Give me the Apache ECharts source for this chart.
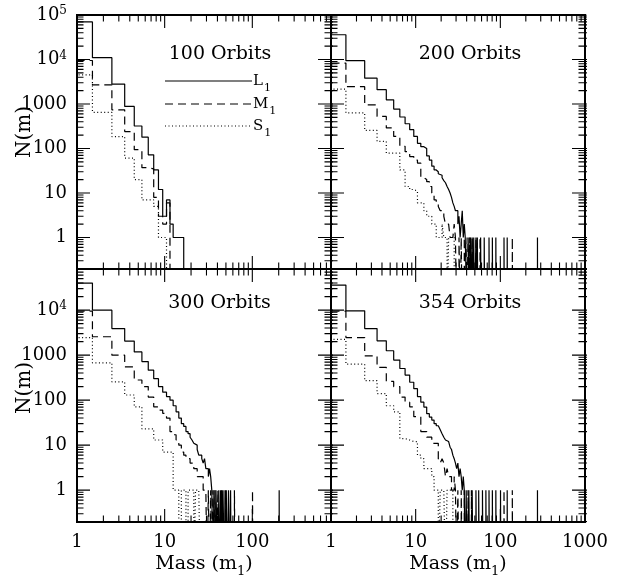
<!DOCTYPE html>
<html><head><meta charset="utf-8">
<script src="https://cdn.jsdelivr.net/npm/echarts@6/dist/echarts.min.js"></script>
<style>html,body{margin:0;padding:0;background:#fff}#c{width:625px;height:579px}</style>
</head><body><div id="c"></div>
<script>
// ---------------- data (counts N(m) for integer masses m = 1,2,3,...) ----------------
const panelTitles = ['100 Orbits', '200 Orbits', '300 Orbits', '354 Orbits'];
const seriesNames = ['L1', 'M1', 'S1'];

// 100 orbits
const L100 = [70000, 11000, 2800, 880, 320, 180, 72, 33, 12, 3, 7, 2, 1, 1, 1, 1];
const M100 = [9500, 2700, 740, 240, 94, 37, 35, 8, 3, 2, 6];
const S100 = [4500, 650, 185, 61, 20, 7, 7, 5, 1, 1];
const L100tail = [];
const M100tail = [];
const S100tail = [];

// 200 orbits
const L200 = [36000, 9400, 3800, 2100, 1240, 770, 510, 360, 265, 187, 131, 110, 100, 68, 55, 40, 33, 30, 27, 25, 22, 19, 17, 14, 12, 10, 8, 6, 5, 4, 4, 2, 3, 1, 2, 4, 1, 2, 1, 1];
const M200 = [8300, 2450, 955, 525, 290, 187, 112, 85, 66, 55, 47, 22, 20, 18, 14, 10, 7, 6, 5, 4, 4, 3, 2, 2, 2, 1, 1, 1, 2, 1];
const S200 = [2150, 630, 255, 145, 79, 79, 33, 14, 12, 11, 6, 6, 4, 3, 3, 2, 2, 1, 1, 1, 2, 1, 1, 0, 1, 1, 1, 1];
const L200tail = [43, 45, 47, 49, 52, 54, 59, 65, 74, 81, 89, 111, 121, 275];
const M200tail = [33, 35, 38, 41, 44, 47, 52, 58, 139];
const S200tail = [];

// 300 orbits
const L300 = [40000, 10000, 3900, 2050, 1180, 720, 464, 300, 200, 150, 120, 100, 75, 55, 40, 30, 26, 20, 18, 15, 13, 11, 10, 8, 6, 6, 5, 4, 5, 3, 3, 2, 3, 2, 1];
const M300 = [9500, 2560, 1000, 550, 280, 200, 117, 71, 60, 51, 40, 20, 17, 13, 10, 7, 6, 5, 5, 4, 4, 3, 3, 2, 2, 2, 2, 1, 1, 1];
const S300 = [2450, 675, 255, 130, 71, 23, 23, 13, 13, 7, 7, 7, 1, 1, 0, 1, 1, 0, 1, 1, 1, 0, 1, 1, 1];
const L300tail = [37, 39, 40, 42, 44, 46, 48, 51, 54, 57, 203];
const M300tail = [32, 34, 36, 38, 41, 45, 50, 63, 101];
const S300tail = [];

// 354 orbits
const L354 = [36000, 9650, 3900, 2080, 1250, 775, 505, 360, 250, 180, 120, 90, 70, 50, 42, 36, 30, 27, 26, 22, 18, 15, 13, 12, 11, 9, 8, 6, 5, 4, 3, 4, 2, 3, 2, 1, 2, 1];
const M354 = [9500, 2450, 960, 535, 260, 200, 117, 90, 71, 43, 43, 20, 20, 15, 15, 11, 11, 11, 5, 4, 5, 4, 2, 3, 2, 2, 1, 1, 2, 1];
const S354 = [2240, 630, 270, 140, 75, 55, 14, 13, 12, 12, 6, 5, 3, 3, 3, 2, 1, 1, 0, 1, 1, 1, 0, 1, 1, 1, 1];
const L354tail = [40, 43, 47, 52, 56, 62, 68, 74, 81, 89, 101, 121, 275];
const M354tail = [32, 35, 38, 42, 46, 111, 139];
const S354tail = [];

// axis ranges and tick labels
const xMaxLeft = 790, xMaxRight = 1000, xMin = 1;
const yMinAll = 0.196, yMaxTop = 100000, yMaxBottom = 82000;
const xLabelsLeft = [1, 10, 100];
const xLabelsRight = [1, 10, 100, 1000];
const yLabelsTop = [1, 10, 100, 1000, 10000, 100000];
const yLabelsBottom = [1, 10, 100, 1000, 10000];

// ---------------- helpers ----------------
const FLOOR = 0.01;      // below every y axis (clipped away)
const CEIL = 1e9;        // above every y axis (clipped away)
const XLOW = 0.01;       // left of every x axis (clipped away)
const XHIGH = 1e6;       // right of every x axis (clipped away)
function stepData(dense, tail) {
  const counts = {};
  dense.forEach((v, i) => { if (v > 0) counts[i + 1] = v; });
  tail.forEach(m => { counts[m] = (counts[m] || 0) + 1; });
  const ms = Object.keys(counts).map(Number).sort((a, b) => a - b);
  const pts = [];
  let prev = null;
  ms.forEach(m => {
    if (prev !== null && m !== prev + 1) { pts.push([prev + 0.5, FLOOR]); pts.push([m - 0.5, FLOOR]); }
    pts.push([m - 0.5, counts[m]]);
    pts.push([m + 0.5, counts[m]]);
    prev = m;
  });
  pts.push([prev + 0.5, FLOOR]);
  return pts;
}
// tick values: [value, isMajor] for 1..9 x 10^e inside [min, max]
function tickVals(min, max) {
  const out = [];
  for (let e = -1; e <= 5; e++) for (let k = 1; k <= 9; k++) {
    const v = +(k * Math.pow(10, e)).toPrecision(3);
    if (v >= min * 0.9999 && v <= max * 1.0001) out.push([v, k === 1 ? 1 : 0]);
  }
  return out;
}
const FONT = 'DejaVu Serif';
function labelFmt(v) {
  const e = Math.round(Math.log10(v));
  return e >= 4 ? '10{sup|' + e + '}' : String(Math.round(v));
}
function mkAxis(g, pos, min, max, labels) {
  return {
    type: 'log', logBase: 10, gridIndex: g, position: pos, min: min, max: max,
    axisLine: { show: false, onZero: false },
    axisTick: { show: false },
    axisLabel: labels ? {
      show: true, customValues: labels, formatter: labelFmt, margin: 10,
      color: '#000', fontFamily: FONT, fontSize: 18, lineHeight: 20,
      rich: { sup: { fontFamily: FONT, fontSize: 12, lineHeight: 12, verticalAlign: 'top', color: '#000' } }
    } : { show: false },
    splitLine: { show: false }
  };
}
const MAJOR_LEN = 13, MINOR_LEN = 6.5;   // tick lengths in pixels

// ---------------- layout ----------------
const grids = [
  { left: 77, top: 15, width: 254, height: 254 },
  { left: 331, top: 15, width: 254, height: 254 },
  { left: 77, top: 269, width: 254, height: 253 },
  { left: 331, top: 269, width: 254, height: 253 }
].map(g => Object.assign({ show: true, borderColor: '#000', borderWidth: 2, backgroundColor: 'transparent' }, g));

const panelX = [[xMaxLeft, null], [xMaxRight, null], [xMaxLeft, xLabelsLeft], [xMaxRight, xLabelsRight]];
const panelY = [[yMaxTop, yLabelsTop], [yMaxTop, null], [yMaxBottom, yLabelsBottom], [yMaxBottom, null]];
const xAxes = [], yAxes = [];
for (let g = 0; g < 4; g++) {
  xAxes.push(mkAxis(g, 'bottom', xMin, panelX[g][0], panelX[g][1]));
  yAxes.push(mkAxis(g, 'left', yMinAll, panelY[g][0], panelY[g][1]));
}

const panelData = [
  [[L100, L100tail], [M100, M100tail], [S100, S100tail]],
  [[L200, L200tail], [M200, M200tail], [S200, S200tail]],
  [[L300, L300tail], [M300, M300tail], [S300, S300tail]],
  [[L354, L354tail], [M354, M354tail], [S354, S354tail]]
];
const dashes = ['solid', [8, 5], [1, 2.5]];
const series = [];
panelData.forEach((sets, g) => {
  sets.forEach(([dense, tail], k) => {
    series.push({
      type: 'line', name: seriesNames[k], xAxisIndex: g, yAxisIndex: g,
      data: stepData(dense, tail), showSymbol: false, symbol: 'none', clip: true,
      lineStyle: { color: '#000', width: 1.2, type: dashes[k] }
    });
  });
});

// ---------------- tick marks on all four sides, drawn through each panel's log axes ----------------
for (let g = 0; g < 4; g++) {
  const xmax = panelX[g][0], ymax = panelY[g][0];
  const W = grids[g].width, H = grids[g].height;
  const fx = len => Math.pow(xmax / xMin, len / W);      // factor in x spanning `len` pixels
  const fy = len => Math.pow(ymax / yMinAll, len / H);   // factor in y spanning `len` pixels
  const bottom = [], top = [], left = [], right = [];
  tickVals(xMin, xmax).forEach(([v, mj]) => {
    const len = mj ? MAJOR_LEN : MINOR_LEN;
    bottom.push([v, FLOOR], [v, yMinAll * fy(len)], [v, FLOOR]);
    top.push([v, CEIL], [v, ymax / fy(len)], [v, CEIL]);
  });
  tickVals(yMinAll, ymax).forEach(([v, mj]) => {
    const len = mj ? MAJOR_LEN : MINOR_LEN;
    left.push([XLOW, v], [xMin * fx(len), v], [XLOW, v]);
    right.push([XHIGH, v], [xmax / fx(len), v], [XHIGH, v]);
  });
  [bottom, top, left, right].forEach(d => series.push({
    type: 'line', name: 'ticks', xAxisIndex: g, yAxisIndex: g, data: d,
    showSymbol: false, symbol: 'none', clip: true, silent: true,
    lineStyle: { color: '#000', width: 1.1, type: 'solid' }
  }));
}

// ---------------- annotations ----------------
const graphic = [];
const titlePos = [[220, 54], [470, 54], [219.5, 303.5], [470, 303.5]];
panelTitles.forEach((t, i) => graphic.push({
  type: 'text', x: titlePos[i][0], y: titlePos[i][1],
  style: { text: t, fill: '#000', fontFamily: FONT, fontSize: 19, align: 'center', verticalAlign: 'middle' }
}));
[[25, 132], [25, 388]].forEach(p => graphic.push({
  type: 'text', x: p[0], y: p[1], rotation: Math.PI / 2,
  style: { text: 'N(m)', fill: '#000', fontFamily: FONT, fontSize: 20, align: 'center', verticalAlign: 'middle' }
}));
[204, 458].forEach(x => graphic.push({
  type: 'text', x: x, y: 555,
  style: { text: '{a|Mass (m}{s|1}{a|)}', fill: '#000', align: 'center', verticalAlign: 'top',
    rich: { a: { fontFamily: FONT, fontSize: 19, lineHeight: 19, verticalAlign: 'top', fill: '#000' },
            s: { fontFamily: FONT, fontSize: 13, lineHeight: 13, padding: [10, 0, 0, 0], verticalAlign: 'top', fill: '#000' } } }
}));
const legY = [81, 104, 126];
const legDash = [null, [8, 5], [1, 2.5]];
const legLetters = ['L', 'M', 'S'];
legY.forEach((y, i) => {
  graphic.push({ type: 'line', shape: { x1: 165, y1: y, x2: 252, y2: y },
    style: { stroke: '#000', lineWidth: 1.2, lineDash: legDash[i] } });
  graphic.push({ type: 'text', x: 253, y: y - 7.5,
    style: { text: '{b|' + legLetters[i] + '}{s|1}', fill: '#000', align: 'left', verticalAlign: 'top',
      rich: { b: { fontFamily: FONT, fontSize: 15, lineHeight: 15, verticalAlign: 'top', fill: '#000' },
              s: { fontFamily: FONT, fontSize: 11, lineHeight: 11, padding: [9, 0, 0, 1], verticalAlign: 'top', fill: '#000' } } } });
});

const chart = echarts.init(document.getElementById('c'), null, { renderer: 'canvas', width: 625, height: 579 });
chart.setOption({
  animation: false,
  grid: grids,
  xAxis: xAxes,
  yAxis: yAxes,
  series: series,
  graphic: graphic
});
</script></body></html>
